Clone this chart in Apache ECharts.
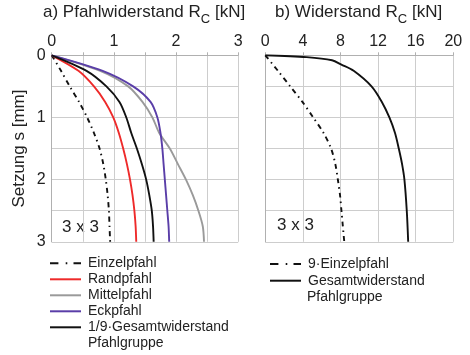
<!DOCTYPE html>
<html><head><meta charset="utf-8">
<script src="https://cdn.jsdelivr.net/npm/echarts@6/dist/echarts.min.js"></script>
<style>html,body{margin:0;padding:0;background:#fff}#c{width:470px;height:355px}</style>
</head><body><div id="c"></div>
<script>
// Settlement values s [mm]
const settlementA = [0, 0.25, 0.5, 0.75, 1, 1.25, 1.5, 1.75, 2, 2.25, 2.5, 2.75, 3];
const settlementB = [0, 0.03, 0.08, 0.15, 0.25, 0.5, 0.75, 1, 1.25, 1.5, 1.75, 2, 2.5, 3];
// a) Pile resistance R_C [kN]
const einzelpfahl = [0, 0.15, 0.29, 0.44, 0.57, 0.68, 0.77, 0.83, 0.87, 0.90, 0.92, 0.93, 0.94];
const randpfahl   = [0, 0.43, 0.68, 0.86, 0.99, 1.08, 1.15, 1.21, 1.26, 1.30, 1.33, 1.35, 1.36];
const mittelpfahl = [0, 0.78, 1.23, 1.46, 1.62, 1.73, 1.90, 2.03, 2.16, 2.27, 2.36, 2.43, 2.45];
const eckpfahl    = [0, 0.82, 1.31, 1.59, 1.70, 1.75, 1.78, 1.80, 1.82, 1.84, 1.86, 1.88, 1.89];
const gesamtNeuntel = [0, 0.56, 0.88, 1.09, 1.20, 1.28, 1.37, 1.45, 1.52, 1.57, 1.61, 1.63, 1.64];
// b) Resistance R_C [kN]
const neunEinzel  = [0, 1.35, 2.65, 3.95, 5.1, 6.2, 7.0, 7.45, 7.72, 7.95, 8.1, 8.25, 8.4];
const gesamtGruppe = [0, 4.4, 7.1, 8.1, 9.4, 11.3, 12.4, 13.2, 13.8, 14.2, 14.55, 14.8, 15.05, 15.2];
// tick labels
const xTicksA = [0, 1, 2, 3];
const xTicksB = [0, 4, 8, 12, 16, 20];
const yTicks = [0, 1, 2, 3];

const FONT = "'Liberation Sans', Arial, sans-serif";
const pair = (xs, ys) => xs.map((v, i) => [v, ys[i]]);
const dashDot = [5, 4, 1.5, 4];
const legendDashDot = [8.4, 7.3, 1.6, 6.2];

const gridColor = '#cdcdcd';
function xAxis(idx, max, interval, ticks) {
  return {
    type: 'value', gridIndex: idx, position: 'top', min: 0, max: max, interval: interval,
    axisLine: { show: true, lineStyle: { color: '#b0b0b0', width: 1 } },
    axisTick: { show: true, inside: false, length: 3, lineStyle: { color: '#b0b0b0' } },
    splitLine: { show: true, lineStyle: { color: gridColor, width: 1 } },
    axisLabel: { fontSize: 16, color: '#222', fontFamily: FONT, margin: 6,
      formatter: v => ticks.indexOf(v) >= 0 ? String(v) : '' }
  };
}
function yAxis(idx, showLabels) {
  return {
    type: 'value', gridIndex: idx, inverse: true, min: 0, max: 3, interval: 0.5,
    name: showLabels ? 'Setzung s [mm]' : '', nameLocation: 'middle', nameGap: 24,
    nameTextStyle: { fontSize: 17, color: '#222', fontFamily: FONT },
    axisLine: { show: true, lineStyle: { color: '#b0b0b0', width: 1 } },
    axisTick: { show: false },
    splitLine: { show: true, lineStyle: { color: gridColor, width: 1 } },
    axisLabel: { show: showLabels, fontSize: 16, color: '#222', fontFamily: FONT, margin: 6,
      formatter: v => yTicks.indexOf(v) >= 0 ? String(v) : '' }
  };
}
function line(name, xi, data, color, type) {
  return {
    name: name, type: 'line', xAxisIndex: xi, yAxisIndex: xi, data: data,
    smooth: 0.3, symbol: 'none', silent: true,
    lineStyle: { color: color, width: 1.9, type: type || 'solid' },
    itemStyle: { color: color }
  };
}
const titleRich = {
  m: { fontSize: 17, fontWeight: 'normal', color: '#222', fontFamily: FONT, verticalAlign: 'top', lineHeight: 20 },
  s: { fontSize: 13, fontWeight: 'normal', color: '#222', fontFamily: FONT, verticalAlign: 'top', padding: [9, 0, 0, 0] }
};
const LH = 16;
const nGes = '1/9·Gesamtwiderstand\nPfahlgruppe';
const nGes2 = 'Gesamtwiderstand\nPfahlgruppe';
const legendText = { fontSize: 14, color: '#222', fontFamily: FONT, lineHeight: LH, padding: [0, 0, 0, 2] };
const hideSym = { color: 'rgba(0,0,0,0)', borderWidth: 0 };
const firstLine = n => n.split('\n')[0];

const chart = echarts.init(document.getElementById('c'), null, { renderer: 'canvas' });
chart.setOption({
  backgroundColor: '#fff',
  animation: false,
  title: [
    { left: 43, top: 4, padding: 0, text: '{m|a) Pfahlwiderstand R}{s|C}{m| [kN]}', textStyle: { fontWeight: 'normal', rich: titleRich } },
    { left: 275, top: 4, padding: 0, text: '{m|b) Widerstand R}{s|C}{m| [kN]}', textStyle: { fontWeight: 'normal', rich: titleRich } }
  ],
  grid: [
    { left: 51.7, top: 55.3, width: 186.5, height: 186.5 },
    { left: 265.3, top: 55.3, width: 188, height: 186.5 }
  ],
  xAxis: [xAxis(0, 3, 0.5, xTicksA), xAxis(1, 20, 4, xTicksB)],
  yAxis: [yAxis(0, true), yAxis(1, false)],
  legend: [
    { orient: 'vertical', left: 49, top: 255.3, height: 200, itemWidth: 31, itemHeight: 14, itemGap: 0, padding: 0,
      selectedMode: false, textStyle: legendText, itemStyle: hideSym, formatter: firstLine,
      data: [{ name: 'Einzelpfahl', lineStyle: { type: legendDashDot } }, 'Randpfahl', 'Mittelpfahl', 'Eckpfahl', nGes] },
    { orient: 'vertical', left: 269, top: 256, height: 200, itemWidth: 31, itemHeight: 14, itemGap: 0.7, padding: 0,
      selectedMode: false, textStyle: legendText, itemStyle: hideSym, formatter: firstLine,
      data: [{ name: '9·Einzelpfahl', lineStyle: { type: legendDashDot } }, nGes2] }
  ],
  graphic: [
    { type: 'text', left: 62, top: 219, style: { text: '3 x 3', fontSize: 17, fill: '#222', fontFamily: FONT } },
    { type: 'text', left: 277, top: 217, style: { text: '3 x 3', fontSize: 17, fill: '#222', fontFamily: FONT } },
    { type: 'text', left: 88, top: 336.5, style: { text: 'Pfahlgruppe', fontSize: 14, fill: '#222', fontFamily: FONT } },
    { type: 'text', left: 307, top: 290, style: { text: 'Pfahlgruppe', fontSize: 14, fill: '#222', fontFamily: FONT } }
  ],
  series: [
    line('Einzelpfahl', 0, pair(einzelpfahl, settlementA), '#111', dashDot),
    line('Randpfahl', 0, pair(randpfahl, settlementA), '#ee2a2a'),
    line('Mittelpfahl', 0, pair(mittelpfahl, settlementA), '#9a9a9a'),
    line('Eckpfahl', 0, pair(eckpfahl, settlementA), '#5a3ea8'),
    line(nGes, 0, pair(gesamtNeuntel, settlementA), '#111'),
    line('9·Einzelpfahl', 1, pair(neunEinzel, settlementA), '#111', dashDot),
    line(nGes2, 1, pair(gesamtGruppe, settlementB), '#111')
  ]
});
</script></body></html>
